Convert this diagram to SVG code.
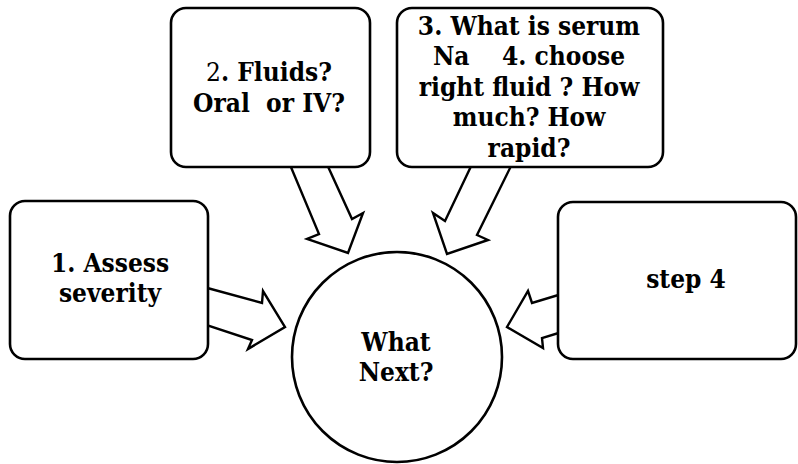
<svg xmlns="http://www.w3.org/2000/svg" width="798" height="464" viewBox="0 0 798 464">
  <style>
    .box { fill: #ffffff; stroke: #000000; stroke-width: 2.6; }
    .arrow { fill: #ffffff; stroke: #000000; stroke-width: 2.4; stroke-linejoin: miter; }
    text { font-family: "DejaVu Serif Condensed", "DejaVu Serif", serif; font-stretch: condensed; font-weight: bold; font-size: 26px; fill: #000000; text-anchor: middle; white-space: pre; }
    .light { font-weight: normal; }
  </style>
  <rect width="798" height="464" fill="#ffffff"/>

  <!-- block arrows pointing into the centre circle -->
  <g id="connectors">
    <polygon class="arrow" points="200,286 262,303 263,291 285,327 248,349 252,340 200,323"/>
    <polygon class="arrow" points="288,160 319,234 307,239 348,253 363,213 352,219 325,160"/>
    <polygon class="arrow" points="474,160 445,221 433,213 447,254 488,240 477,235 514,160"/>
    <polygon class="arrow" points="565,293 532,303 528,291 507,327 543,348 542,338 565,331"/>
  </g>

  <g id="node-severity">
    <rect class="box" x="10" y="201" width="198" height="158" rx="15"/>
    <text x="110" y="272">1. Assess</text>
    <text x="110" y="302">severity</text>
  </g>

  <g id="node-fluids">
    <rect class="box" x="171" y="8" width="199" height="159" rx="15"/>
    <text x="269" y="81"><tspan class="light">2</tspan>. Fluids?</text>
    <text x="269" y="112">Oral  or IV?</text>
  </g>

  <g id="node-serum">
    <rect class="box" x="397" y="8" width="266" height="159" rx="15"/>
    <text x="529" y="35">3. What is serum</text>
    <text x="529" y="65">Na    4. choose</text>
    <text x="529" y="96">right fluid ? How</text>
    <text x="529" y="126">much? How</text>
    <text x="529" y="157">rapid?</text>
  </g>

  <g id="node-step4">
    <rect class="box" x="558" y="202" width="238" height="157" rx="15"/>
    <text x="686" y="288">step 4</text>
  </g>

  <g id="node-next">
    <circle class="box" cx="397" cy="357" r="105"/>
    <text x="396" y="351">What</text>
    <text x="396" y="381">Next?</text>
  </g>
</svg>
